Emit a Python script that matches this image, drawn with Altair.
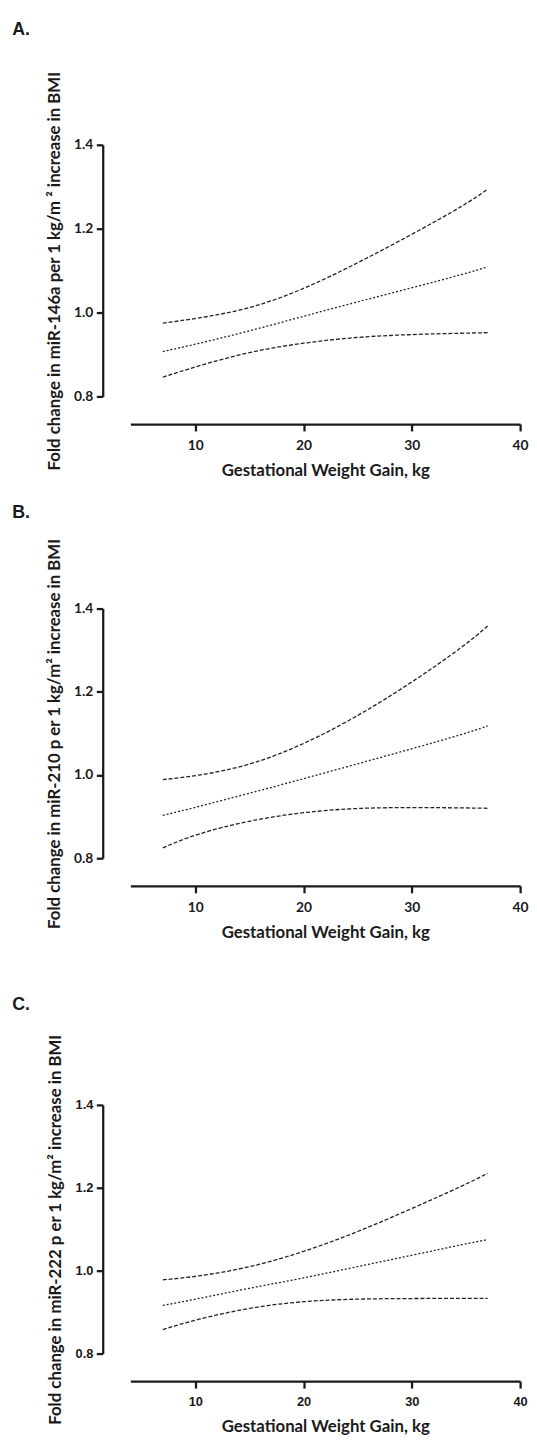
import altair as alt
import pandas as pd

# Gestational weight gain (kg) at which the curves were read
x_vals = [7, 10, 15, 20, 25, 30, 35, 37]

# Panel A: miR-146a
a_upper = [0.975, 0.985, 1.008, 1.055, 1.118, 1.186, 1.258, 1.294]
a_mid = [0.907, 0.924, 0.956, 0.991, 1.026, 1.059, 1.093, 1.109]
a_lower = [0.846, 0.871, 0.907, 0.928, 0.942, 0.948, 0.951, 0.952]

# Panel B: miR-210
b_upper = [0.989, 0.997, 1.022, 1.073, 1.141, 1.222, 1.313, 1.358]
b_mid = [0.903, 0.922, 0.956, 0.991, 1.027, 1.063, 1.100, 1.118]
b_lower = [0.825, 0.858, 0.891, 0.911, 0.921, 0.922, 0.921, 0.920]

# Panel C: miR-222
c_upper = [0.978, 0.985, 1.007, 1.045, 1.093, 1.150, 1.208, 1.235]
c_mid = [0.916, 0.931, 0.958, 0.982, 1.010, 1.037, 1.065, 1.075]
c_lower = [0.858, 0.882, 0.911, 0.927, 0.932, 0.933, 0.933, 0.933]

x_ticks = [10, 20, 30, 40]
y_ticks = [0.8, 1.0, 1.2, 1.4]
x_title = "Gestational Weight Gain, kg"
y_titles = [
    "Fold change in miR-146a per 1 kg/m \u00b2 increase in BMI",
    "Fold change in miR-210 p er 1 kg/m\u00b2 increase in BMI",
    "Fold change in miR-222 p er 1 kg/m\u00b2 increase in BMI",
]
letters = ["A.", "B.", "C."]

INK = "#1a1a1a"


def panel(letter, ytitle, up, mid, lo, height, title_offset, tick_font,
          tick_size, xtitle_pad, ytitle_pad):
    n = len(x_vals)
    df = pd.DataFrame({
        "x": x_vals * 3,
        "y": up + mid + lo,
        "s": ["upper"] * n + ["mid"] * n + ["lower"] * n,
    })
    x = alt.X(
        "x:Q",
        scale=alt.Scale(domain=[4, 40], nice=False, zero=False),
        axis=alt.Axis(
            values=x_ticks, title=x_title, offset=28, grid=False,
            domainColor=INK, domainWidth=2.3, tickColor=INK, tickWidth=2.3,
            tickSize=7, labelFont=tick_font, labelFontSize=tick_size,
            labelFontWeight="bold", labelColor=INK, labelPadding=8,
            labelFlush=False, titleFont="Lato", titleFontSize=17,
            titleFontWeight="bold", titleColor=INK, titlePadding=xtitle_pad,
        ),
    )
    y = alt.Y(
        "y:Q",
        scale=alt.Scale(domain=[0.8, 1.4], nice=False, zero=False),
        axis=alt.Axis(
            values=y_ticks, format=".1f", title=ytitle, offset=28, grid=False,
            domainColor=INK, domainWidth=2.3, tickColor=INK, tickWidth=2.3,
            tickSize=6.5, labelFont=tick_font, labelFontSize=tick_size,
            labelFontWeight="bold", labelColor=INK, labelPadding=3.5,
            labelFlush=False, titleFont="Lato", titleFontSize=17,
            titleFontWeight="bold", titleColor=INK, titlePadding=ytitle_pad,
        ),
    )
    base = alt.Chart(df)
    dashed = base.transform_filter("datum.s != 'mid'").mark_line(
        color="#222", strokeWidth=1.3, strokeDash=[4, 2], interpolate="basis"
    ).encode(x=x, y=y, detail="s:N")
    dotted = base.transform_filter("datum.s == 'mid'").mark_line(
        color="#222", strokeWidth=1.3, strokeDash=[2, 2], interpolate="basis"
    ).encode(x=x, y=y)
    return alt.layer(dashed, dotted).properties(
        width=395,
        height=height,
        title=alt.TitleParams(
            text=letter, anchor="start", frame="group", orient="top",
            baseline="top", font="Liberation Sans", fontSize=18,
            fontWeight="bold", color=INK, dx=-119.7, offset=title_offset,
        ),
    )


def spacer(h):
    return alt.Chart(pd.DataFrame({"v": [0]})).mark_point(opacity=0).encode(
        x=alt.value(0), y=alt.value(0)
    ).properties(width=395, height=h)


pa = panel(letters[0], y_titles[0], a_upper, a_mid, a_lower, 255, 33,
           "Lato", 14, 10, 10)
pb = panel(letters[1], y_titles[1], b_upper, b_mid, b_lower, 253, 16,
           "Lato", 14, 10, 10)
pc = panel(letters[2], y_titles[2], c_upper, c_mid, c_lower, 252, 20,
           "Liberation Sans", 13, 10, 11)

chart = alt.vconcat(
    pa, spacer(215), pb, spacer(250), pc, spacing=0, bounds="flush"
).configure_view(stroke=None).properties(
    padding={"left": 4, "top": 3, "right": 0, "bottom": 0}
)

chart.save("out.html", embed_options={"renderer": "svg", "actions": False})
